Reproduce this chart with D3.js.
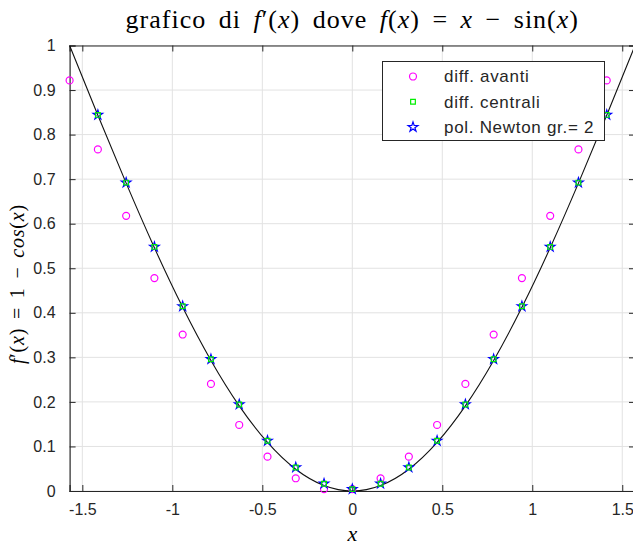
<!DOCTYPE html>
<html>
<head>
<meta charset="utf-8">
<script src="https://cdnjs.cloudflare.com/ajax/libs/d3/7.8.5/d3.min.js"></script>
<style>
  body { margin: 0; background: #fff; }
</style>
</head>
<body>
<div id="chart"></div>
<script>
// nodes x = k*pi/20
const xNodes = [-1.5708, -1.4137, -1.2566, -1.0996, -0.9425, -0.7854, -0.6283, -0.4712, -0.3142, -0.1571,
  0, 0.1571, 0.3142, 0.4712, 0.6283, 0.7854, 0.9425, 1.0996, 1.2566, 1.4137, 1.5708];
// 1 - cos(x) on the nodes (black curve)
const exactVals = [1, 0.8436, 0.6910, 0.5460, 0.4122, 0.2929, 0.1910, 0.1090, 0.0489, 0.0123,
  0, 0.0123, 0.0489, 0.1090, 0.1910, 0.2929, 0.4122, 0.5460, 0.6910, 0.8436, 1];

const xAvanti = xNodes.slice(0, 20);
const avanti = [0.9216, 0.7668, 0.6177, 0.4780, 0.3512, 0.2404, 0.1482, 0.0771, 0.0286, 0.0041,
  0.0041, 0.0286, 0.0771, 0.1482, 0.2404, 0.3512, 0.4780, 0.6177, 0.7668, 0.9216];

const xCentr = xNodes.slice(1, 20);
const centrali = [0.8442, 0.6923, 0.5479, 0.4146, 0.2958, 0.1943, 0.1127, 0.0529, 0.0164,
  0.0041, 0.0164, 0.0529, 0.1127, 0.1943, 0.2958, 0.4146, 0.5479, 0.6923, 0.8442];
const newton = [0.8442, 0.6923, 0.5479, 0.4146, 0.2958, 0.1943, 0.1127, 0.0529, 0.0164,
  0.0041, 0.0164, 0.0529, 0.1127, 0.1943, 0.2958, 0.4146, 0.5479, 0.6923, 0.8442];

const xTicks = [-1.5, -1, -0.5, 0, 0.5, 1, 1.5];
const yTicks = [0, 0.1, 0.2, 0.3, 0.4, 0.5, 0.6, 0.7, 0.8, 0.9, 1];
const legendLabels = ["diff. avanti", "diff. centrali", "pol. Newton gr.= 2"];

const w = 633, h = 545;
const padLeft = 69.6, padRight = 635, padTop = 45.5, padBottom = 491;
const axisColor = "#262626";

const svg = d3.select("#chart").append("svg")
  .attr("width", w).attr("height", h)
  .style("font-family", "'Liberation Sans', Arial, sans-serif");

const xScale = d3.scaleLinear().domain([-1.5708, 1.5708]).range([padLeft, padRight]);
const yScale = d3.scaleLinear().domain([0, 1]).range([padBottom, padTop]);

// grid
svg.append("g").selectAll("line").data(xTicks).enter().append("line")
  .attr("x1", d => xScale(d)).attr("x2", d => xScale(d))
  .attr("y1", padTop).attr("y2", padBottom)
  .attr("stroke", "#e2e2e2").attr("stroke-width", 1);
svg.append("g").selectAll("line").data(yTicks).enter().append("line")
  .attr("x1", padLeft).attr("x2", padRight)
  .attr("y1", d => yScale(d)).attr("y2", d => yScale(d))
  .attr("stroke", "#e2e2e2").attr("stroke-width", 1);

// axes (inward ticks, MATLAB style)
const xAxis = d3.axisBottom(xScale).tickValues(xTicks).tickSize(-6).tickPadding(13).tickFormat(d => String(d));
const yAxis = d3.axisLeft(yScale).tickValues(yTicks).tickSize(-6).tickPadding(14).tickFormat(d => String(d));
const xAxisTop = d3.axisTop(xScale).tickValues(xTicks).tickSize(-6).tickFormat("");
const yAxisRight = d3.axisRight(yScale).tickValues(yTicks).tickSize(-6).tickFormat("");

function styleAxis(g) {
  g.select(".domain").attr("stroke", axisColor).attr("stroke-width", 1.2);
  g.selectAll(".tick line").attr("stroke", axisColor);
  g.selectAll(".tick text").attr("fill", axisColor).style("font-size", "16px")
    .style("font-family", "'Liberation Sans', Arial, sans-serif");
}

svg.append("g").attr("transform", "translate(0," + padBottom + ")").call(xAxis).call(styleAxis);
svg.append("g").attr("transform", "translate(" + padLeft + ",0)").call(yAxis).call(styleAxis);
svg.append("g").attr("transform", "translate(0," + padTop + ")").call(xAxisTop).call(styleAxis);
svg.append("g").attr("transform", "translate(" + padRight + ",0)").call(yAxisRight).call(styleAxis);

// exact curve
const line = d3.line()
  .x((d, i) => xScale(xNodes[i]))
  .y(d => yScale(d))
  .curve(d3.curveNatural);
svg.append("path").datum(exactVals)
  .attr("d", line).attr("fill", "none")
  .attr("stroke", "#111").attr("stroke-width", 1.1);

// markers
const circleSym = d3.symbol().type(d3.symbolCircle).size(38);
const squareSym = d3.symbol().type(d3.symbolSquare).size(22);
const starSym = d3.symbol().type(d3.symbolStar).size(30);

svg.append("g").selectAll("path").data(avanti).enter().append("path")
  .attr("d", circleSym)
  .attr("transform", (d, i) => "translate(" + xScale(xAvanti[i]) + "," + yScale(d) + ")")
  .attr("fill", "none").attr("stroke", "#ff00ff").attr("stroke-width", 1.2);

svg.append("g").selectAll("path").data(newton).enter().append("path")
  .attr("d", starSym)
  .attr("transform", (d, i) => "translate(" + xScale(xCentr[i]) + "," + yScale(d) + ")")
  .attr("fill", "none").attr("stroke", "#0000ff").attr("stroke-width", 1.1);

svg.append("g").selectAll("path").data(centrali).enter().append("path")
  .attr("d", squareSym)
  .attr("transform", (d, i) => "translate(" + xScale(xCentr[i]) + "," + yScale(d) + ")")
  .attr("fill", "none").attr("stroke", "#00ee00").attr("stroke-width", 1.2);

// legend
const leg = svg.append("g");
leg.append("rect")
  .attr("x", 382.5).attr("y", 61.5).attr("width", 222).attr("height", 79)
  .attr("fill", "#fff").attr("stroke", axisColor).attr("stroke-width", 1);
const legSyms = [
  { sym: circleSym, color: "#ff00ff" },
  { sym: squareSym, color: "#00ee00" },
  { sym: starSym, color: "#0000ff" }
];
legendLabels.forEach((lab, i) => {
  const yy = 76.5 + i * 25.3;
  leg.append("path").attr("d", legSyms[i].sym)
    .attr("transform", "translate(413," + yy + ")")
    .attr("fill", "none").attr("stroke", legSyms[i].color).attr("stroke-width", 1.2);
  leg.append("text").attr("x", 444).attr("y", yy).attr("dy", "0.35em")
    .attr("fill", axisColor).style("font-size", "17px").style("letter-spacing", "0.7px")
    .text(lab);
});

// title
const serif = "'Liberation Serif', 'Times New Roman', serif";
const title = svg.append("text").attr("x", (padLeft + padRight) / 2).attr("y", 28)
  .attr("text-anchor", "middle").style("font-family", serif).style("font-size", "26px")
  .style("letter-spacing", "1px").style("word-spacing", "5px").attr("fill", "#000");
const titleParts = [["grafico di ", false], ["f", true], ["\u2032(", false], ["x", true], [") dove ", false],
  ["f", true], ["(", false], ["x", true], [") = ", false], ["x", true], [" \u2212 sin(", false], ["x", true], [")", false]];
titleParts.forEach(p => title.append("tspan").style("font-style", p[1] ? "italic" : "normal").text(p[0]));

// x label
svg.append("text").attr("x", (padLeft + padRight) / 2).attr("y", 541)
  .attr("text-anchor", "middle").style("font-family", serif).style("font-size", "22px")
  .style("font-style", "italic").attr("fill", "#000").text("x");

// y label
const ylab = svg.append("text").attr("transform", "translate(24,284) rotate(-90)")
  .attr("text-anchor", "middle").style("font-family", serif).style("font-size", "20px")
  .style("letter-spacing", "0.8px").style("word-spacing", "3px").attr("fill", "#000");
const yParts = [["f", true], ["\u2032(", false], ["x", true], [") = 1 \u2212 ", false], ["cos", true], ["(", false], ["x", true], [")", false]];
yParts.forEach(p => ylab.append("tspan").style("font-style", p[1] ? "italic" : "normal").text(p[0]));
</script>
</body>
</html>
